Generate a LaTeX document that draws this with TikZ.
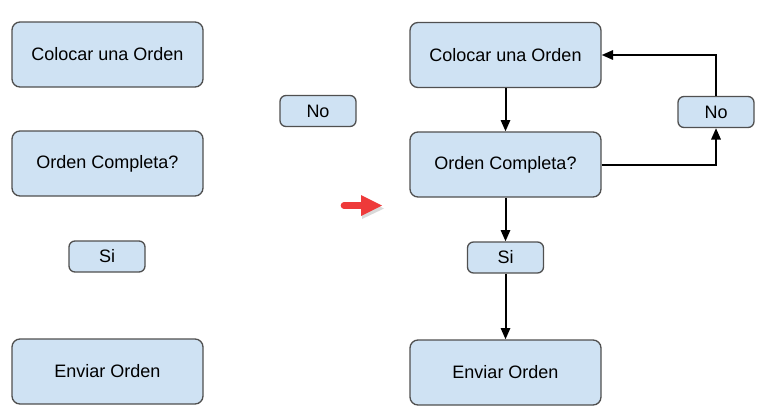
\documentclass[tikz,border=0pt]{standalone}
\usepackage{fontspec}
\setmainfont{Liberation Sans}
\usetikzlibrary{arrows.meta,positioning}
\definecolor{boxfill}{RGB}{207,226,243}
\definecolor{boxline}{RGB}{80,80,80}
\definecolor{pfeil}{RGB}{238,58,58}
\tikzset{
  paso/.style={draw=boxline, fill=boxfill, rounded corners=6pt, line width=1pt,
    minimum width=143.25pt, minimum height=48.75pt, inner sep=0pt,
    font=\fontsize{13.5}{16}\selectfont},
  rama/.style={paso, rounded corners=4.5pt, minimum width=57pt, minimum height=23.25pt},
  flujo/.style={-{Triangle[length=8.5pt,width=7pt]}, line width=1.5pt},
}
\begin{document}
\begin{tikzpicture}[x=0.75pt, y=-0.75pt]
  \useasboundingbox (0,0) rectangle (762,411);

  % Before: the loose blocks
  \node[paso] (col1) at (107.5,54.5) {Colocar una Orden};
  \node[paso] (comp1) at (107.5,163.5) {Orden Completa?};
  \node[rama] (no1) at (318,111) {No};
  \node[rama] (si1) at (107,256.5) {Si};
  \node[paso] (env1) at (107.5,371.5) {Enviar Orden};

  % Red arrow in between
  \fill[black, opacity=0.15] (344,208) -- (362,208) (362,198) -- (384,208.5) -- (362,219) -- cycle;
  \draw[pfeil, line width=5pt, line cap=round] (344,205.5) -- (363,205.5);
  \fill[pfeil] (361,195) -- (382,205.5) -- (361,216) -- cycle;

  % After: the connected flow chart
  \node[paso] (col2) at (505.5,55) {Colocar una Orden};
  \node[paso] (comp2) at (505.5,164.5) {Orden Completa?};
  \node[rama] (no2) at (716,112) {No};
  \node[rama] (si2) at (505.5,257.5) {Si};
  \node[paso] (env2) at (505.5,372.5) {Enviar Orden};

  \draw[flujo] (col2) -- (comp2);
  \draw[flujo] (comp2) -- (si2);
  \draw[flujo] (si2) -- (env2);
  \draw[flujo] (comp2.east) -| (no2.south);
  \draw[flujo] (no2.north) |- (col2.east);
\end{tikzpicture}
\end{document}
